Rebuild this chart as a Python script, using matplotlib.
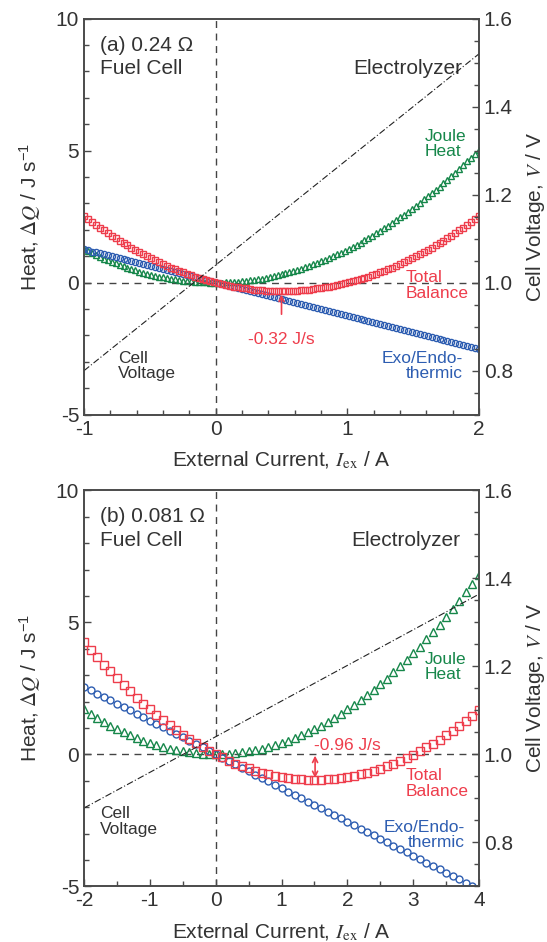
import matplotlib
matplotlib.use("Agg")
import matplotlib.pyplot as plt
from matplotlib.ticker import MultipleLocator, FormatStrFormatter

plt.rcParams['font.family'] = ['Liberation Sans', 'DejaVu Sans']
plt.rcParams['mathtext.fontset'] = 'stix'
plt.rcParams['axes.unicode_minus'] = False

# ---- panel (a) 0.24 ohm ----
current_a = [-1.00, -0.97, -0.94, -0.91, -0.88, -0.85, -0.82, -0.79, -0.76, -0.73,
             -0.70, -0.67, -0.64, -0.61, -0.58, -0.55, -0.52, -0.49, -0.46, -0.43,
             -0.40, -0.37, -0.34, -0.31, -0.28, -0.25, -0.22, -0.19, -0.16, -0.13,
             -0.10, -0.07, -0.04, -0.01, 0.02, 0.05, 0.08, 0.11, 0.14, 0.17,
             0.20, 0.23, 0.26, 0.29, 0.32, 0.35, 0.38, 0.41, 0.44, 0.47,
             0.50, 0.53, 0.56, 0.59, 0.62, 0.65, 0.68, 0.71, 0.74, 0.77,
             0.80, 0.83, 0.86, 0.89, 0.92, 0.95, 0.98, 1.01, 1.04, 1.07,
             1.10, 1.13, 1.16, 1.19, 1.22, 1.25, 1.28, 1.31, 1.34, 1.37,
             1.40, 1.43, 1.46, 1.49, 1.52, 1.55, 1.58, 1.61, 1.64, 1.67,
             1.70, 1.73, 1.76, 1.79, 1.82, 1.85, 1.88, 1.91, 1.94, 1.97, 2.00]
joule_a = [1.26, 1.19, 1.11, 1.04, 0.98, 0.91, 0.85, 0.79, 0.73, 0.67,
           0.62, 0.57, 0.52, 0.47, 0.42, 0.38, 0.34, 0.30, 0.27, 0.23,
           0.20, 0.17, 0.15, 0.12, 0.10, 0.08, 0.06, 0.05, 0.03, 0.02,
           0.01, 0.01, 0.00, 0.00, 0.00, 0.00, 0.01, 0.02, 0.02, 0.04,
           0.05, 0.07, 0.09, 0.11, 0.13, 0.15, 0.18, 0.21, 0.24, 0.28,
           0.32, 0.35, 0.40, 0.44, 0.48, 0.53, 0.58, 0.64, 0.69, 0.75,
           0.81, 0.87, 0.93, 1.00, 1.07, 1.14, 1.21, 1.29, 1.36, 1.44,
           1.52, 1.61, 1.70, 1.78, 1.88, 1.97, 2.06, 2.16, 2.26, 2.36,
           2.47, 2.58, 2.69, 2.80, 2.91, 3.03, 3.15, 3.27, 3.39, 3.51,
           3.64, 3.77, 3.90, 4.04, 4.17, 4.31, 4.45, 4.60, 4.74, 4.89, 5.04]
exo_a = [1.26, 1.22, 1.18, 1.15, 1.11, 1.07, 1.03, 1.00, 0.96, 0.92,
         0.88, 0.84, 0.81, 0.77, 0.73, 0.69, 0.66, 0.62, 0.58, 0.54,
         0.50, 0.47, 0.43, 0.39, 0.35, 0.32, 0.28, 0.24, 0.20, 0.16,
         0.13, 0.09, 0.05, 0.01, -0.03, -0.06, -0.10, -0.14, -0.18, -0.21,
         -0.25, -0.29, -0.33, -0.37, -0.40, -0.44, -0.48, -0.52, -0.55, -0.59,
         -0.63, -0.67, -0.71, -0.74, -0.78, -0.82, -0.86, -0.89, -0.93, -0.97,
         -1.01, -1.05, -1.08, -1.12, -1.16, -1.20, -1.23, -1.27, -1.31, -1.35,
         -1.39, -1.42, -1.46, -1.50, -1.54, -1.58, -1.61, -1.65, -1.69, -1.73,
         -1.76, -1.80, -1.84, -1.88, -1.92, -1.95, -1.99, -2.03, -2.07, -2.10,
         -2.14, -2.18, -2.22, -2.26, -2.29, -2.33, -2.37, -2.41, -2.44, -2.48, -2.52]
total_a = [2.52, 2.41, 2.30, 2.19, 2.08, 1.98, 1.88, 1.78, 1.69, 1.59,
           1.50, 1.41, 1.32, 1.24, 1.15, 1.07, 1.00, 0.92, 0.85, 0.77,
           0.71, 0.64, 0.57, 0.51, 0.45, 0.39, 0.34, 0.28, 0.23, 0.19,
           0.14, 0.09, 0.05, 0.01, -0.02, -0.06, -0.09, -0.12, -0.15, -0.18,
           -0.20, -0.22, -0.24, -0.26, -0.27, -0.29, -0.30, -0.30, -0.31, -0.31,
           -0.32, -0.31, -0.31, -0.30, -0.30, -0.29, -0.27, -0.26, -0.24, -0.22,
           -0.20, -0.18, -0.15, -0.12, -0.09, -0.06, -0.02, 0.01, 0.05, 0.09,
           0.14, 0.19, 0.23, 0.28, 0.34, 0.39, 0.45, 0.51, 0.57, 0.64,
           0.71, 0.77, 0.85, 0.92, 1.00, 1.07, 1.15, 1.24, 1.32, 1.41,
           1.50, 1.59, 1.69, 1.78, 1.88, 1.98, 2.08, 2.19, 2.30, 2.41, 2.52]
volt_i_a = [-1.0, 2.0]
volt_a = [0.80, 1.52]

# ---- panel (b) 0.081 ohm ----
current_b = [-2.0, -1.9, -1.8, -1.7, -1.6, -1.5, -1.4, -1.3, -1.2, -1.1,
             -1.0, -0.9, -0.8, -0.7, -0.6, -0.5, -0.4, -0.3, -0.2, -0.1,
             0.0, 0.1, 0.2, 0.3, 0.4, 0.5, 0.6, 0.7, 0.8, 0.9,
             1.0, 1.1, 1.2, 1.3, 1.4, 1.5, 1.6, 1.7, 1.8, 1.9,
             2.0, 2.1, 2.2, 2.3, 2.4, 2.5, 2.6, 2.7, 2.8, 2.9,
             3.0, 3.1, 3.2, 3.3, 3.4, 3.5, 3.6, 3.7, 3.8, 3.9, 4.0]
joule_b = [1.70, 1.53, 1.38, 1.23, 1.09, 0.96, 0.83, 0.72, 0.61, 0.51,
           0.43, 0.34, 0.27, 0.21, 0.15, 0.11, 0.07, 0.04, 0.02, 0.00,
           0.00, 0.00, 0.02, 0.04, 0.07, 0.11, 0.15, 0.21, 0.27, 0.34,
           0.43, 0.51, 0.61, 0.72, 0.83, 0.96, 1.09, 1.23, 1.38, 1.53,
           1.70, 1.87, 2.06, 2.25, 2.45, 2.66, 2.87, 3.10, 3.33, 3.57,
           3.83, 4.08, 4.35, 4.63, 4.91, 5.21, 5.51, 5.82, 6.14, 6.46, 6.80]
exo_b = [2.56, 2.43, 2.30, 2.18, 2.05, 1.92, 1.79, 1.66, 1.54, 1.41,
         1.28, 1.15, 1.02, 0.90, 0.77, 0.64, 0.51, 0.38, 0.26, 0.13,
         0.00, -0.13, -0.26, -0.38, -0.51, -0.64, -0.77, -0.90, -1.02, -1.15,
         -1.28, -1.41, -1.54, -1.66, -1.79, -1.92, -2.05, -2.18, -2.30, -2.43,
         -2.56, -2.69, -2.82, -2.94, -3.07, -3.20, -3.33, -3.46, -3.58, -3.71,
         -3.84, -3.97, -4.10, -4.22, -4.35, -4.48, -4.61, -4.74, -4.86, -4.99, -5.12]
total_b = [4.26, 3.97, 3.68, 3.40, 3.14, 2.88, 2.63, 2.38, 2.15, 1.92,
           1.71, 1.50, 1.30, 1.10, 0.92, 0.75, 0.58, 0.42, 0.27, 0.13,
           0.00, -0.12, -0.24, -0.35, -0.44, -0.53, -0.62, -0.69, -0.75, -0.81,
           -0.86, -0.89, -0.92, -0.95, -0.96, -0.96, -0.96, -0.95, -0.93, -0.90,
           -0.86, -0.81, -0.76, -0.70, -0.62, -0.54, -0.46, -0.36, -0.25, -0.14,
           -0.01, 0.12, 0.26, 0.40, 0.56, 0.73, 0.90, 1.08, 1.27, 1.47, 1.68]
volt_i_b = [-2.0, 4.0]
volt_b = [0.878, 1.364]

RED = '#ee3d4c'
GREEN = '#16874a'
BLUE = '#2d5db1'
INK = '#333333'
SPINE = '#4a4a4a'


def style_axis(ax):
    for s in ax.spines.values():
        s.set_color(SPINE)
        s.set_linewidth(1.2)
    ax.tick_params(which='both', direction='in', colors=SPINE, labelcolor=INK,
                   labelsize=15, width=1.0)
    ax.tick_params(which='major', length=5)
    ax.tick_params(which='minor', length=3.5)


def draw_panel(fig, rect, cur, joule, exo, total, vi, vv, xlim, xminor, ms,
               labels):
    ax = fig.add_axes(rect)
    ax.plot(cur, joule, linestyle='none', marker='^', ms=ms + 0.4, mfc='none',
            mec=GREEN, mew=1.0, zorder=3)
    ax.plot(cur, exo, linestyle='none', marker='o', ms=ms, mfc='none',
            mec=BLUE, mew=1.0, zorder=4)
    ax.plot(cur, total, linestyle='none', marker='s', ms=ms + 0.4, mfc='none',
            mec=RED, mew=1.0, zorder=5)
    ax.axhline(0, color='#444444', lw=1.0, ls=(0, (5, 4)), zorder=1)
    ax.axvline(0, color='#444444', lw=1.0, ls=(0, (5, 4)), zorder=1)
    ax.set_xlim(*xlim)
    ax.set_ylim(-5, 10)
    ax.xaxis.set_major_locator(MultipleLocator(1))
    ax.xaxis.set_minor_locator(MultipleLocator(xminor))
    ax.yaxis.set_major_locator(MultipleLocator(5))
    ax.yaxis.set_minor_locator(MultipleLocator(1))
    style_axis(ax)
    ax.set_xlabel(r'External Current, $I_{\rm ex}$ / A', fontsize=15, color=INK,
                  labelpad=8)
    ax.set_ylabel(r'Heat, $\mathit{\Delta Q}$ / J s$^{\mathregular{-1}}$',
                  fontsize=15, color=INK, labelpad=9)

    ax2 = ax.twinx()
    ax2.plot(vi, vv, color='#222222', lw=0.8, ls=(0, (6, 2, 1, 2)))
    ax2.set_ylim(0.7, 1.6)
    ax2.yaxis.set_major_locator(MultipleLocator(0.2))
    ax2.yaxis.set_minor_locator(MultipleLocator(0.05))
    ax2.yaxis.set_major_formatter(FormatStrFormatter('%.1f'))
    style_axis(ax2)
    ax2.set_ylabel(r'Cell Voltage, $V$ / V', fontsize=15, color=INK,
                   labelpad=8)

    for txt, x, y, ha, col, fs in labels:
        ax.text(x, y, txt, ha=ha, va='center', color=col, fontsize=fs,
                linespacing=1.05, zorder=6)
    return ax


fig = plt.figure(figsize=(5.47, 9.42), dpi=100)

labels_a = [
    ('(a) 0.24 \u03a9', -0.88, 9.0, 'left', INK, 15),
    ('Fuel Cell', -0.88, 8.1, 'left', INK, 15),
    ('Electrolyzer', 1.87, 8.1, 'right', INK, 15),
    ('Joule\nHeat', 1.59, 5.25, 'left', GREEN, 12.5),
    ('Total\nBalance', 1.44, -0.1, 'left', RED, 12.5),
    ('-0.32 J/s', 0.5, -2.15, 'center', RED, 12.5),
    ('Exo/Endo-\nthermic', 1.88, -3.15, 'right', BLUE, 12.5),
    ('Cell\nVoltage', -0.74, -3.15, 'left', INK, 12.5),
]
ax_a = draw_panel(fig, [0.1536, 0.5598, 0.7221, 0.4204], current_a, joule_a,
                  exo_a, total_a, volt_i_a, volt_a, (-1, 2), 0.2, 4.4, labels_a)
ax_a.annotate('', xy=(0.5, -0.35), xytext=(0.5, -1.3),
              arrowprops=dict(arrowstyle='->', color=RED, lw=1.2,
                              mutation_scale=9), zorder=6)

labels_b = [
    ('(b) 0.081 \u03a9', -1.76, 9.0, 'left', INK, 15),
    ('Fuel Cell', -1.76, 8.1, 'left', INK, 15),
    ('Electrolyzer', 3.72, 8.1, 'right', INK, 15),
    ('Joule\nHeat', 3.17, 3.3, 'left', GREEN, 12.5),
    ('-0.96 J/s', 1.5, 0.35, 'left', RED, 12.5),
    ('Total\nBalance', 2.88, -1.1, 'left', RED, 12.5),
    ('Exo/Endo-\nthermic', 3.78, -3.05, 'right', BLUE, 12.5),
    ('Cell\nVoltage', -1.76, -2.55, 'left', INK, 12.5),
]
ax_b = draw_panel(fig, [0.1536, 0.0591, 0.7221, 0.4204], current_b, joule_b,
                  exo_b, total_b, volt_i_b, volt_b, (-2, 4), 0.5, 5.0, labels_b)
ax_b.annotate('', xy=(1.51, -0.05), xytext=(1.51, -0.9),
              arrowprops=dict(arrowstyle='<->', color=RED, lw=1.2,
                              mutation_scale=9, shrinkA=0, shrinkB=0), zorder=6)

fig.savefig('out.png', dpi=100)
